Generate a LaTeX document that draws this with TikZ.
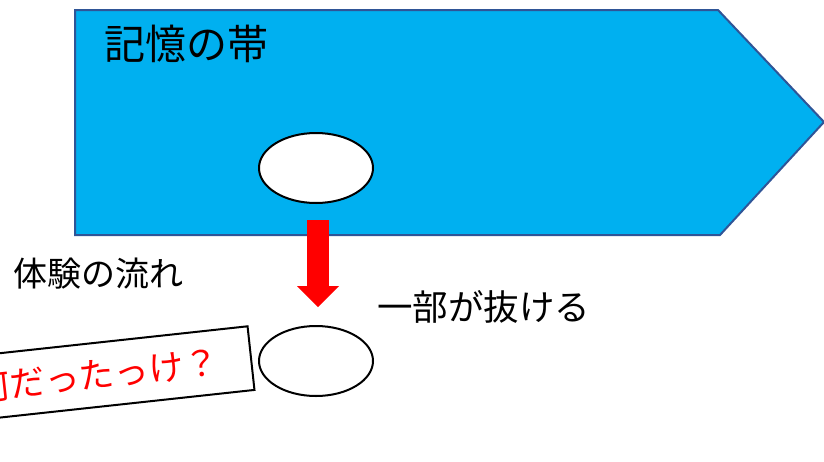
\documentclass[tikz,border=0pt]{standalone}
\usepackage{fontspec}
\setmainfont{Noto Sans CJK JP}
\usetikzlibrary{shapes.geometric,arrows.meta}
\definecolor{bandblue}{HTML}{00B0F0}
\definecolor{bandedge}{HTML}{2F5597}
\tikzset{
  memory/.style={ellipse,draw=black,line width=2pt,fill=white,minimum width=114pt,minimum height=70pt,inner sep=0pt},
  label/.style={inner sep=0pt,anchor=west,text=black},
}
\begin{document}
\begin{tikzpicture}[x=1pt,y=-1pt]
\useasboundingbox (0,0) rectangle (824,461);
\clip (0,0) rectangle (824,461);
% band
\filldraw[fill=bandblue,draw=bandedge,line width=2pt]
  (75,10) -- (718,10) -- (824,122) -- (720,235) -- (75,235) -- cycle;
\node[label,font=\fontsize{41}{41}\selectfont] (title) at (104,44) {記憶の帯};
% ellipses
\node[memory] (upper) at (316,168) {};
\node[memory] (lower) at (316,361) {};
% arrow
\coordinate (atop) at (318,220);
\coordinate (atip) at (318,307);
\draw[red,line width=22pt,-{Triangle[width=42pt,length=21pt,line width=0pt]}] (atop) -- (atip);
% labels
\node[label,font=\fontsize{34}{34}\selectfont] (flow) at (13,274) {体験の流れ};
\node[label,font=\fontsize{35.5}{35.5}\selectfont] (part) at (377,307) {一部が抜ける};
% rotated box
\node[draw=black,line width=2pt,fill=white,rotate=6.2,anchor=east,minimum width=304pt,minimum height=64pt,text=red,font=\fontsize{35}{35}\selectfont] (what) at (252,358) {\hspace*{-6pt}何だったっけ？};
\end{tikzpicture}
\end{document}
